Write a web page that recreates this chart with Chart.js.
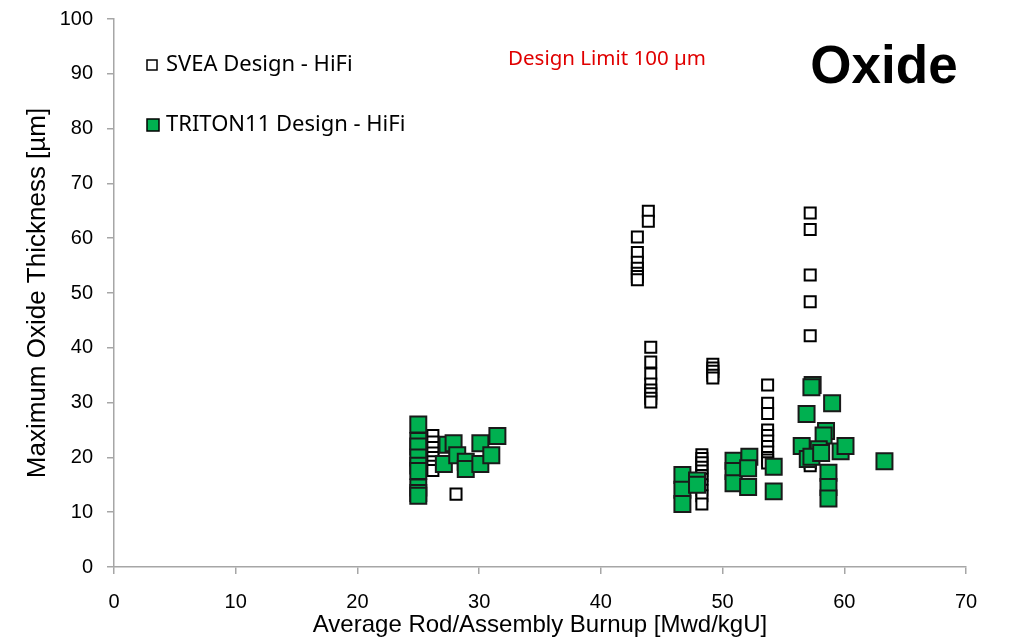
<!DOCTYPE html>
<html>
<head>
<meta charset="utf-8">
<style>
  html, body { margin: 0; padding: 0; background: #fff; }
  #wrap { width: 1023px; height: 640px; position: relative; }
</style>
<script src="https://cdn.jsdelivr.net/npm/chart.js@4"></script>
</head>
<body>
<div id="wrap"><canvas id="oxideChart" width="1023" height="640"></canvas></div>
<script>
// SVEA Design - HiFi (burnup, oxide)
const sveaBurnup = [
    26.2, 26.2, 26.2, 26.2, 26.2, 26.2, 26.2, 26.2,
    28.1,
    43.0, 43.0, 43.0, 43.0, 43.0, 43.0, 43.0,
    43.9, 43.9,
    44.1, 44.1, 44.1, 44.1, 44.1, 44.1, 44.1, 44.1,
    48.3, 48.3, 48.3, 48.3, 48.3, 48.3, 48.3, 48.3, 48.3, 48.3, 48.3,
    49.2, 49.2, 49.2, 49.2, 49.2,
    53.7, 53.7, 53.7, 53.7, 53.7, 53.7, 53.7, 53.7, 53.7, 53.7, 53.7,
    57.2, 57.2, 57.2, 57.2, 57.2, 57.2, 57.2, 57.2
];
const sveaOxide = [
    24, 22.8, 21.8, 20.8, 20, 19.2, 18.4, 17.6,
    13.3,
    60.2, 57.4, 55.6, 54.5, 53.6, 53, 52.4,
    64.9, 63.1,
    40.1, 37.4, 35.2, 33.4, 32.3, 31.6, 30.8, 30.1,
    20.5, 19.8, 19, 18.2, 17.5, 16.7, 16, 15, 14, 13, 11.5,
    37, 36.3, 35.7, 35, 34.5,
    33.2, 29.9, 28, 25, 24, 23, 22, 21, 20, 19.5, 19,
    64.6, 61.6, 53.3, 48.4, 42.2, 20, 19, 18.5
];

// TRITON11 Design - HiFi (burnup, oxide)
const tritonBurnup = [
    25.0, 25.0, 25.0, 25.0, 25.0, 25.0, 25.0, 25.0, 25.0,
    27.4, 27.9, 27.1, 28.2, 28.9, 28.9, 30.1, 30.1, 31.0, 31.5,
    46.7, 46.7, 46.7, 47.9, 47.9,
    50.9, 50.9, 50.9, 52.2, 52.1, 52.1, 54.2, 54.2,
    57.4, 57.3, 59.0, 56.9, 58.5, 58.3, 56.5, 57.9, 57.0, 57.3, 58.1, 59.7, 60.1,
    58.7, 58.7, 58.7, 63.3
];
const tritonOxide = [
    26, 23, 22, 20, 18.5, 17.5, 14.5, 13.5, 13,
    22.3, 22.6, 18.8, 20.4, 19.2, 17.9, 22.6, 18.8, 20.4, 23.9,
    16.8, 14.1, 11.5, 15.8, 15.0,
    19.4, 17.5, 15.3, 20.1, 18.0, 14.6, 18.3, 13.8,
    33.2, 32.8, 29.9, 27.9, 24.8, 24.0, 22.1, 21.5, 19.7, 20.1, 20.8, 21.1, 22.1,
    17.2, 14.6, 12.5, 19.3
];

const xTicks = [0, 10, 20, 30, 40, 50, 60, 70];
const yTicks = [0, 10, 20, 30, 40, 50, 60, 70, 80, 90, 100];

const toPoints = (xs, ys) => xs.map((x, i) => ({ x: x, y: ys[i] }));

const axisGray = '#a6a6a6';
const narrowFont = "'Liberation Sans Narrow', 'Liberation Sans', Arial, sans-serif";

// legend, limit note and big label drawn on top of the plot
const annotations = {
    id: 'annotations',
    afterDraw(chart) {
        const ctx = chart.ctx;
        ctx.save();
        // legend markers
        ctx.lineWidth = 1.5;
        ctx.strokeStyle = '#000';
        ctx.fillStyle = '#fff';
        ctx.fillRect(147, 60, 10, 10);
        ctx.strokeRect(147, 60, 10, 10);
        ctx.fillStyle = '#00B050';
        ctx.fillRect(147, 119, 12, 12);
        ctx.strokeRect(147, 119, 12, 12);
        // legend text
        ctx.fillStyle = '#000';
        ctx.font = "22px 'Noto Sans', sans-serif";
        ctx.textBaseline = 'middle';
        ctx.textAlign = 'left';
        ctx.fillText('SVEA Design - HiFi', 166, 65);
        ctx.fillText('TRITON11 Design - HiFi', 166, 125);
        // limit note
        ctx.fillStyle = '#e00000';
        ctx.font = "20.5px 'Noto Sans', sans-serif";
        ctx.textAlign = 'center';
        ctx.fillText('Design Limit 100 \u00b5m', 607, 59);
        // big label
        ctx.fillStyle = '#000';
        ctx.font = "bold 53px 'Liberation Sans', Arial, sans-serif";
        ctx.fillText('Oxide', 884, 68);
        ctx.restore();
    }
};

new Chart(document.getElementById('oxideChart'), {
    type: 'scatter',
    data: {
        datasets: [
            {
                label: 'TRITON11 Design - HiFi',
                data: toPoints(tritonBurnup, tritonOxide),
                pointStyle: 'rect',
                pointRadius: 11.3,
                pointBorderWidth: 2,
                pointBorderColor: '#1a1a1a',
                pointBackgroundColor: '#00B050',
                order: 0
            },
            {
                label: 'SVEA Design - HiFi',
                data: toPoints(sveaBurnup, sveaOxide),
                pointStyle: 'rect',
                pointRadius: 7.8,
                pointBorderWidth: 2,
                pointBorderColor: '#000',
                pointBackgroundColor: '#fff',
                order: 1
            }
        ]
    },
    options: {
        responsive: false,
        animation: false,
        layout: { padding: { top: 19, right: 57, left: 0, bottom: 0 } },
        plugins: {
            legend: { display: false },
            tooltip: { enabled: false }
        },
        scales: {
            x: {
                type: 'linear',
                min: 0,
                max: 70,
                afterBuildTicks: scale => { scale.ticks = xTicks.map(v => ({ value: v })); },
                afterFit: scale => {
                    scale.height = 73;
                    scale.paddingLeft = 0;
                    scale.paddingRight = 0;
                },
                border: { color: axisGray, width: 1.5 },
                grid: { drawOnChartArea: false, drawTicks: true, tickLength: 7, color: axisGray, lineWidth: 1.5 },
                ticks: { color: '#000', padding: 16, font: { family: narrowFont, size: 20 } },
                title: {
                    display: true,
                    text: 'Average Rod/Assembly Burnup [Mwd/kgU]',
                    color: '#000',
                    padding: { top: 3, bottom: 0 },
                    font: { family: narrowFont, size: 24 }
                }
            },
            y: {
                type: 'linear',
                min: 0,
                max: 100,
                afterBuildTicks: scale => { scale.ticks = yTicks.map(v => ({ value: v })); },
                afterFit: scale => {
                    scale.width = 114;
                    scale.paddingTop = 0;
                    scale.paddingBottom = 0;
                },
                border: { color: axisGray, width: 1.5 },
                grid: { drawOnChartArea: false, drawTicks: true, tickLength: 7, color: axisGray, lineWidth: 1.5 },
                ticks: { color: '#000', padding: 14, font: { family: "'Liberation Sans', Arial, sans-serif", size: 20 } },
                title: {
                    display: true,
                    text: 'Maximum Oxide Thickness [\u00b5m]',
                    color: '#000',
                    padding: { top: 22, bottom: 4 },
                    font: { family: narrowFont, size: 26 }
                }
            }
        }
    },
    plugins: [annotations]
});
</script>
</body>
</html>
